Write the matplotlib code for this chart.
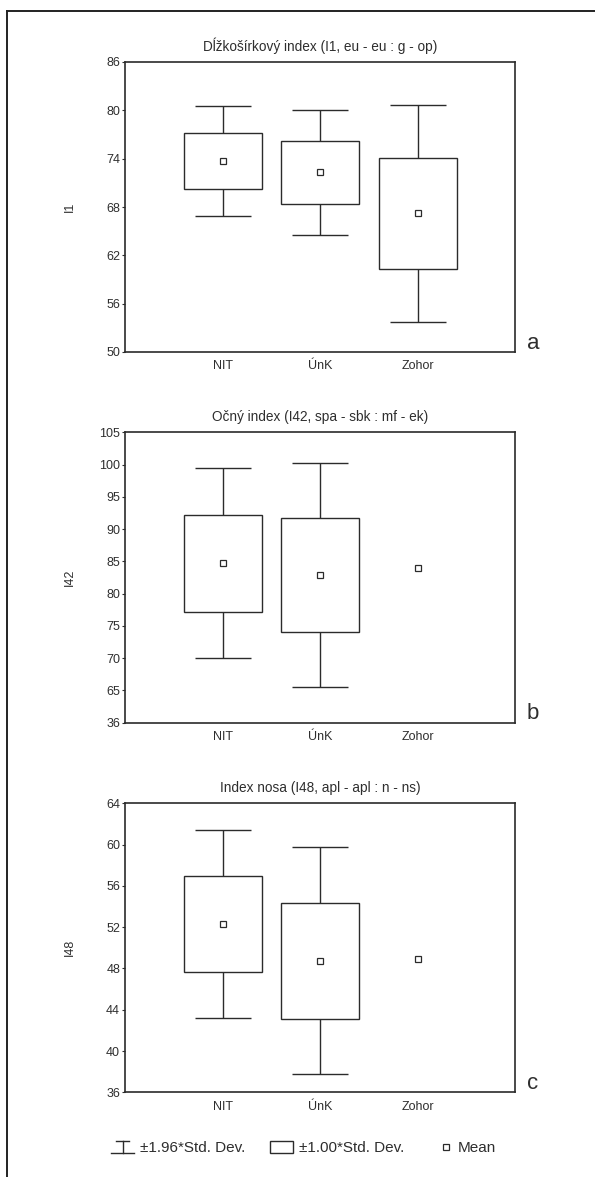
import numpy as np
import matplotlib
matplotlib.use('Agg')
import matplotlib.pyplot as plt
from matplotlib.lines import Line2D
from matplotlib.patches import Rectangle
from matplotlib.legend_handler import HandlerBase

plt.rcParams['font.family'] = ['Liberation Sans', 'DejaVu Sans']

GROUPS = ['NIT', 'ÚnK', 'Zohor']

# panel a - Dĺžkošírkový index
MEAN_A = [73.7, 72.3, 67.2]
SD_A = [3.5, 3.95, 6.9]
# panel b - Očný index (Zohor has only a mean)
MEAN_B = [84.7, 82.9, 83.9]
SD_B = [7.5, 8.85, np.nan]
# panel c - Index nosa
MEAN_C = [52.3, 48.75, 48.9]
SD_C = [4.65, 5.6, np.nan]

TITLES = ['Dĺžkošírkový index (I1, eu - eu : g - op)',
          'Očný index (I42, spa - sbk : mf - ek)',
          'Index nosa (I48, apl - apl : n - ns)']
YLABELS = ['I1', 'I42', 'I48']
LETTERS = ['a', 'b', 'c']
YTICKS = [[50, 56, 62, 68, 74, 80, 86],
          [60, 65, 70, 75, 80, 85, 90, 95, 100, 105],
          [36, 40, 44, 48, 52, 56, 60, 64]]
YTICKLABELS = [['50', '56', '62', '68', '74', '80', '86'],
               ['36', '65', '70', '75', '80', '85', '90', '95', '100', '105'],
               ['36', '40', '44', '48', '52', '56', '60', '64']]

LC = '#2b2b2b'
TC = '#2e2e2e'

W, H = 595, 1177
fig = plt.figure(figsize=(W / 100, H / 100), dpi=100)
fig.patch.set_facecolor('white')

# axes rectangles (left, bottom, width, height) in figure fraction
rects = [(125 / W, 1 - 352 / H, 390 / W, 290 / H),
         (125 / W, 1 - 722.7 / H, 390 / W, 290.4 / H),
         (125 / W, 1 - 1092.3 / H, 390 / W, 289 / H)]

means = [MEAN_A, MEAN_B, MEAN_C]
sds = [SD_A, SD_B, SD_C]
x = np.arange(1, len(GROUPS) + 1)

for k in range(3):
    ax = fig.add_axes(rects[k])
    m = np.array(means[k])
    s = np.array(sds[k])
    ok = ~np.isnan(s)
    ax.errorbar(x[ok], m[ok], yerr=1.96 * s[ok], fmt='none', ecolor=LC,
                elinewidth=1.0, capsize=20.5, capthick=1.0, zorder=1)
    ax.bar(x[ok], 2 * s[ok], bottom=m[ok] - s[ok], width=0.8,
           facecolor='white', edgecolor=LC, linewidth=1.0, zorder=2)
    ax.plot(x, m, 's', ms=3.8, mfc='white', mec=LC, mew=0.9, zorder=3)

    ax.set_xlim(0, 4)
    ax.set_ylim(YTICKS[k][0], YTICKS[k][-1])
    ax.set_xticks(x)
    ax.set_xticklabels(GROUPS)
    ax.set_yticks(YTICKS[k])
    ax.set_yticklabels(YTICKLABELS[k])
    ax.tick_params(axis='x', length=0, pad=6, labelsize=9, colors=TC)
    ax.tick_params(axis='y', length=2, width=0.8, pad=1.5, labelsize=9,
                   colors=TC)
    for sp in ax.spines.values():
        sp.set_linewidth(1.2)
        sp.set_color(LC)
    ax.set_title(TITLES[k], fontsize=9.8, color=TC, pad=8)
    ax.set_ylabel(YLABELS[k], fontsize=9, color=TC)
    ax.yaxis.set_label_coords(-0.141, 0.5)
    ax.yaxis.label.set_verticalalignment('center')
    ax.text(1.046, 0.03, LETTERS[k], transform=ax.transAxes, fontsize=16,
            ha='center', va='center', color=TC)


class WhiskerHandler(HandlerBase):
    def create_artists(self, legend, orig_handle, xd, yd, width, height,
                       fontsize, trans):
        x0, y0 = -xd, -yd
        top = Line2D([x0 + 0.2 * width, x0 + 0.8 * width],
                     [y0 + height, y0 + height], color=LC, lw=1.0)
        mid = Line2D([x0 + 0.5 * width] * 2, [y0, y0 + height], color=LC,
                     lw=1.0)
        bot = Line2D([x0, x0 + width], [y0, y0], color=LC, lw=1.0)
        for a in (top, mid, bot):
            a.set_transform(trans)
        return [top, mid, bot]


class BoxHandler(HandlerBase):
    def create_artists(self, legend, orig_handle, xd, yd, width, height,
                       fontsize, trans):
        r = Rectangle((-xd, -yd), width, height, facecolor='white',
                      edgecolor=LC, lw=1.0, transform=trans)
        return [r]


class MeanHandler(HandlerBase):
    def create_artists(self, legend, orig_handle, xd, yd, width, height,
                       fontsize, trans):
        p = Line2D([-xd + 0.75 * width], [-yd + 0.5 * height], marker='s',
                   ms=4, mfc='white', mec=LC, mew=0.9, ls='none',
                   transform=trans)
        return [p]


class Whisk:
    pass


class Box:
    pass


class Mean:
    pass


leg = fig.legend([Whisk(), Box(), Mean()],
                 ['±1.96*Std. Dev.', '±1.00*Std. Dev.', 'Mean'],
                 handler_map={Whisk: WhiskerHandler(), Box: BoxHandler(),
                              Mean: MeanHandler()},
                 loc='center', bbox_to_anchor=(0.51, 1 - 1148 / H), ncol=3,
                 frameon=False, fontsize=11, handlelength=1.5,
                 handleheight=0.8, handletextpad=0.4, columnspacing=1.6,
                 labelcolor=TC)

# page frame (top and left edges)
fig.add_artist(Line2D([7 / W, 1], [1 - 11 / H, 1 - 11 / H],
                      transform=fig.transFigure, color='#222222', lw=1.4))
fig.add_artist(Line2D([7 / W, 7 / W], [0, 1 - 11 / H],
                      transform=fig.transFigure, color='#222222', lw=1.4))

fig.savefig('out.png', dpi=100, facecolor='white')
